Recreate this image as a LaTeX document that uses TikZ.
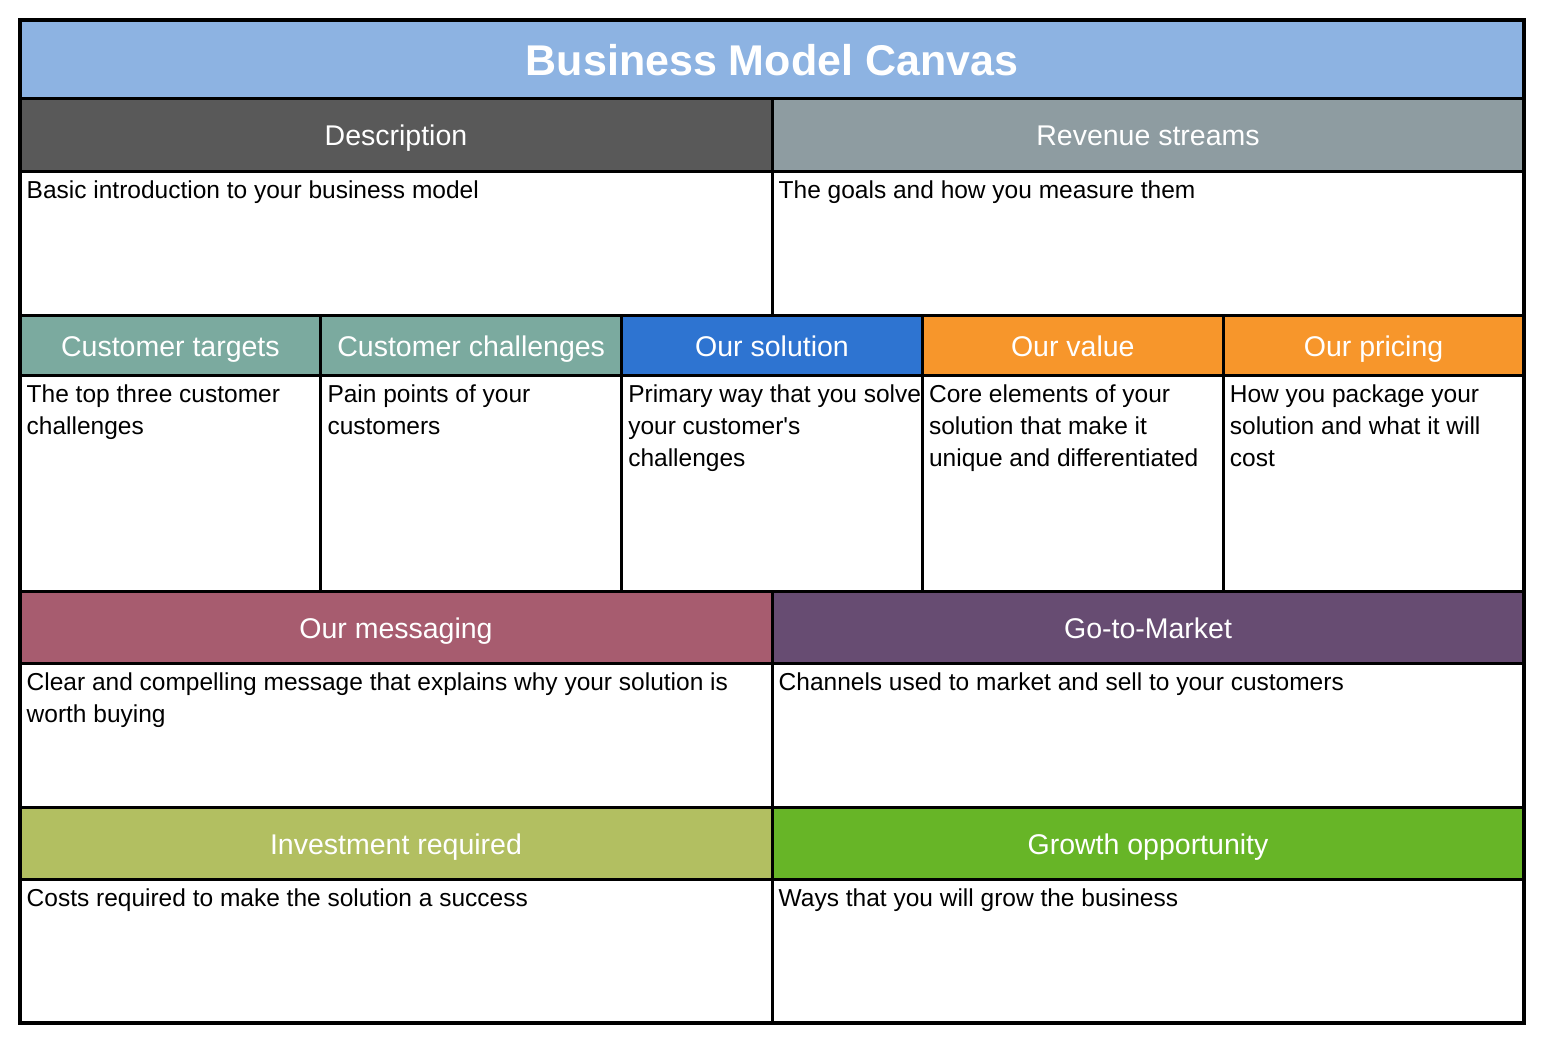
\documentclass[tikz,border=0pt]{standalone}
\usepackage{fontspec}
\setmainfont{Liberation Sans}
\usetikzlibrary{positioning}

\definecolor{titleblue}{HTML}{8DB3E2}
\definecolor{descgray}{HTML}{595959}
\definecolor{revgray}{HTML}{8E9CA1}
\definecolor{custteal}{HTML}{7BAA9F}
\definecolor{solblue}{HTML}{2E74D1}
\definecolor{valorange}{HTML}{F7962B}
\definecolor{msgrose}{HTML}{A75C6F}
\definecolor{gtmpurple}{HTML}{674C72}
\definecolor{involive}{HTML}{B2BF61}
\definecolor{growgreen}{HTML}{67B527}

\tikzset{
  cell/.style={draw=black, line width=3pt, rectangle, inner sep=0pt, outer sep=0pt},
  head/.style={cell, anchor=north west, text=white, text height=22pt, text depth=0pt, font=\fontsize{28.5}{32}\selectfont},
  blank/.style={cell, fill=white},
  txt/.style={anchor=north west, inner sep=0pt, align=left, font=\fontsize{24.5}{32}\selectfont},
  half/.style={minimum width=752pt},
  fifth/.style={minimum width=300.8pt}
}

\begin{document}
\begin{tikzpicture}[x=1pt, y=1pt]
\useasboundingbox (0,0) rectangle (1544,-1046);
%title
\node[cell, anchor=north west, fill=titleblue, minimum width=1504pt, minimum height=79pt, text=white, text height=33pt, text depth=0pt, font=\bfseries\fontsize{43}{48}\selectfont] (title) at (20,-20) {Business Model Canvas};

%first row
\node[head, half, fill=descgray, minimum height=72pt] (desc) at (20,-99) {Description};
\node[head, half, fill=revgray, minimum height=72pt, right=0pt of desc] (rev) {Revenue streams};
\node[blank, half, minimum height=144pt, below=0pt of desc] (descbody) {};
\node[blank, half, minimum height=144pt, below=0pt of rev] (revbody) {};
\node[txt] (desctxt) at ([xshift=6.5pt, yshift=-5pt]descbody.north west) {\strut Basic introduction to your business model};
\node[txt] (revtxt) at ([xshift=6.5pt, yshift=-5pt]revbody.north west) {\strut The goals and how you measure them};

%second row
\node[head, fifth, fill=custteal, minimum height=60pt] (target) at (20,-315) {Customer targets};
\node[head, fifth, fill=custteal, minimum height=60pt, right=0pt of target] (chall) {Customer challenges};
\node[head, fifth, fill=solblue, minimum height=60pt, right=0pt of chall] (sol) {Our solution};
\node[head, fifth, fill=valorange, minimum height=60pt, right=0pt of sol] (val) {Our value};
\node[head, fifth, fill=valorange, minimum height=60pt, right=0pt of val] (price) {Our pricing};
\foreach \c in {target, chall, sol, val, price}
  \node[blank, fifth, minimum height=216pt, below=0pt of \c] (\c body) {};
\node[txt] (targettxt) at ([xshift=6.5pt, yshift=-5pt]targetbody.north west) {\strut The top three customer\\challenges};
\node[txt] (challtxt) at ([xshift=6.5pt, yshift=-5pt]challbody.north west) {\strut Pain points of your\\customers};
\node[txt] (soltxt) at ([xshift=6.5pt, yshift=-5pt]solbody.north west) {\strut Primary way that you solve\\your customer\textquotesingle s\\challenges};
\node[txt] (valtxt) at ([xshift=6.5pt, yshift=-5pt]valbody.north west) {\strut Core elements of your\\solution that make it\\unique and differentiated};
\node[txt] (pricetxt) at ([xshift=6.5pt, yshift=-5pt]pricebody.north west) {\strut How you package your\\solution and what it will\\cost};

%third row
\node[head, half, fill=msgrose, minimum height=72pt] (msg) at (20,-591) {Our messaging};
\node[head, half, fill=gtmpurple, minimum height=72pt, right=0pt of msg] (gtm) {Go-to-Market};
\node[blank, half, minimum height=144pt, below=0pt of msg] (msgbody) {};
\node[blank, half, minimum height=144pt, below=0pt of gtm] (gtmbody) {};
\node[txt] (msgtxt) at ([xshift=6.5pt, yshift=-5pt]msgbody.north west) {\strut Clear and compelling message that explains why your solution is\\worth buying};
\node[txt] (gtmtxt) at ([xshift=6.5pt, yshift=-5pt]gtmbody.north west) {\strut Channels used to market and sell to your customers};

%last row
\node[head, half, fill=involive, minimum height=72pt] (inv) at (20,-807) {Investment required};
\node[head, half, fill=growgreen, minimum height=72pt, right=0pt of inv] (grow) {Growth opportunity};
\node[blank, half, minimum height=144pt, below=0pt of inv] (invbody) {};
\node[blank, half, minimum height=144pt, below=0pt of grow] (growbody) {};
\node[txt] (invtxt) at ([xshift=6.5pt, yshift=-5pt]invbody.north west) {\strut Costs required to make the solution a success};
\node[txt] (growtxt) at ([xshift=6.5pt, yshift=-5pt]growbody.north west) {\strut Ways that you will grow the business};

%outer frame
\draw[line width=4pt] (title.north west) rectangle (growbody.south east);
\end{tikzpicture}
\end{document}
